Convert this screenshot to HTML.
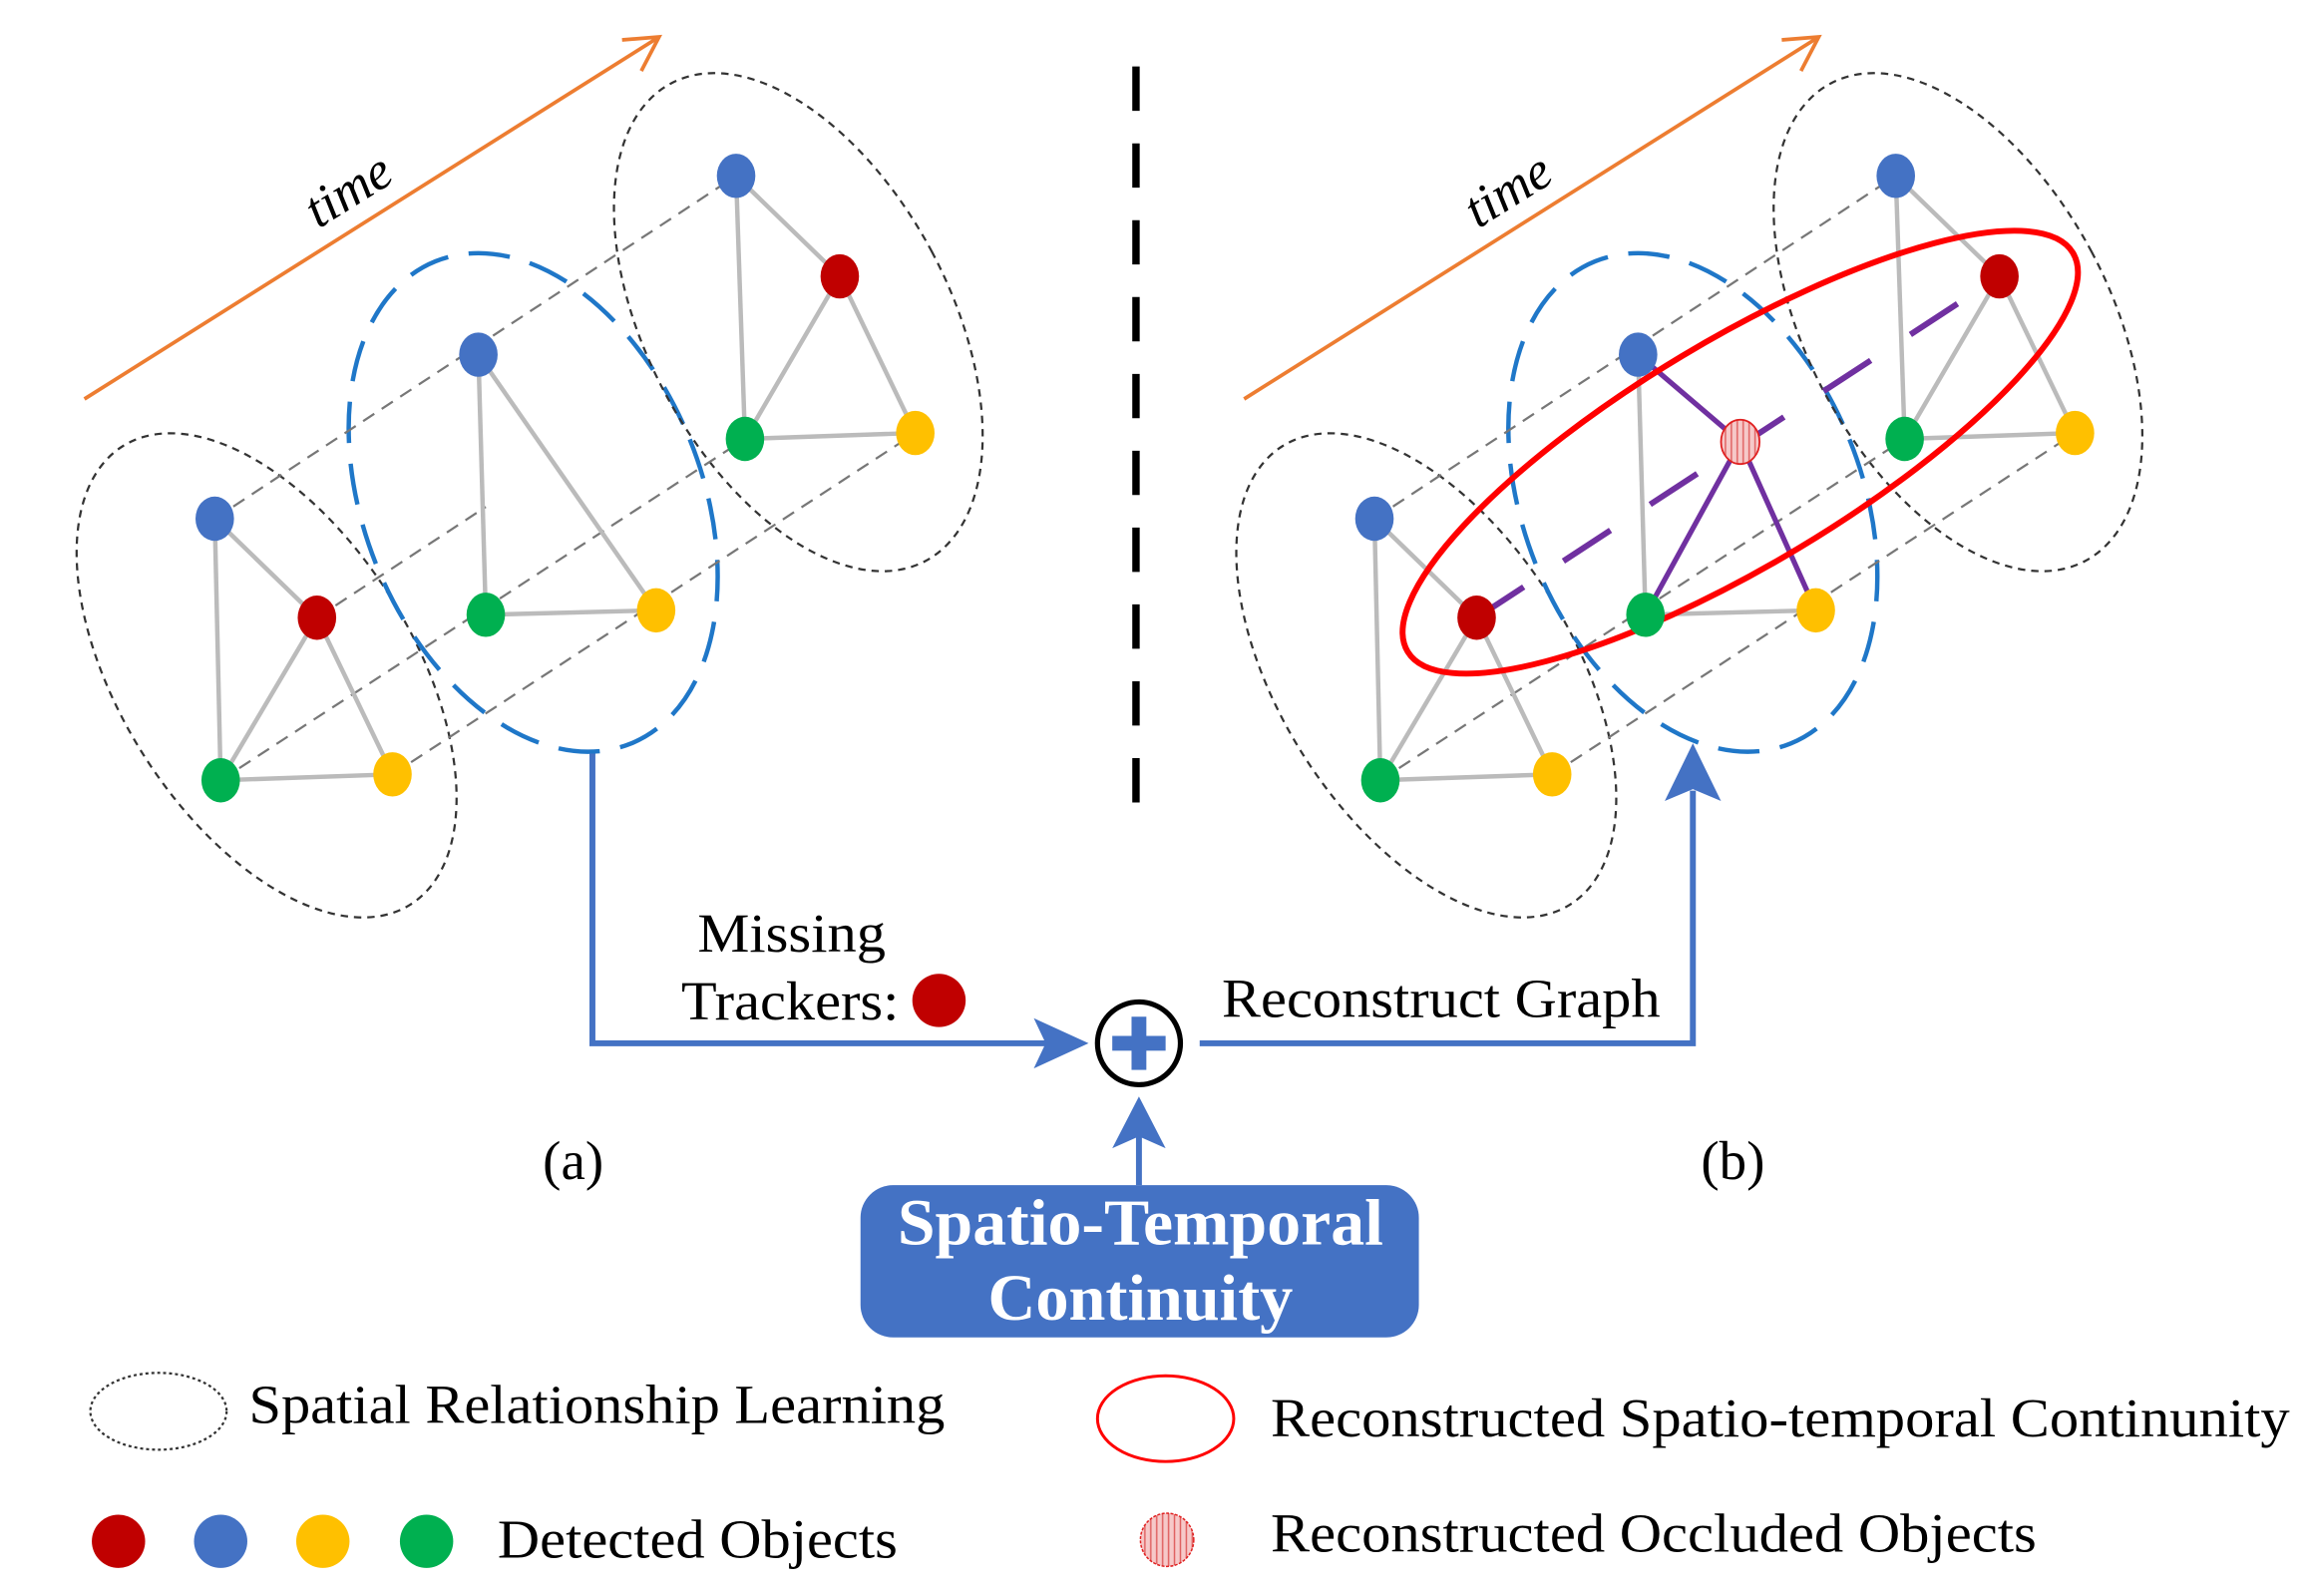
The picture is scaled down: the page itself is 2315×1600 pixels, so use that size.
<!DOCTYPE html>
<html><head><meta charset="utf-8"><style>html,body{margin:0;padding:0;background:#fff}svg{display:block}</style></head>
<body>
<svg width="2315" height="1600" viewBox="0 0 1559 1080" preserveAspectRatio="none" xmlns="http://www.w3.org/2000/svg" font-family="Liberation Serif, serif">
<defs>
<pattern id="hatch" width="4" height="4" patternUnits="userSpaceOnUse"><rect width="4" height="4" fill="#f6c9c9"/><line x1="1" y1="0" x2="1" y2="4" stroke="#e06060" stroke-width="1"/></pattern>
</defs>
<rect width="1559" height="1080" fill="#fff"/>

<!-- LEFT PANEL -->
<g>
<line x1="57" y1="270" x2="445" y2="25" stroke="#ed7d31" stroke-width="2.5"/>
<polyline points="420,27 445,25 433,48" fill="none" stroke="#ed7d31" stroke-width="2.5"/>
<text x="0" y="0" font-size="36" font-style="italic" transform="translate(215,155) rotate(-32)">time</text>
<ellipse cx="180" cy="457" rx="99" ry="183" transform="rotate(-32 180 457)" fill="none" stroke="#333" stroke-width="1.5" stroke-dasharray="5,4"/>
<ellipse cx="360" cy="340" rx="114" ry="176" transform="rotate(-22 360 340)" fill="none" stroke="#1f77c8" stroke-width="3" stroke-dasharray="28,14"/>
<ellipse cx="539" cy="218" rx="102" ry="183" transform="rotate(-28 539 218)" fill="none" stroke="#333" stroke-width="1.5" stroke-dasharray="5,4"/>
<g stroke="#777" stroke-width="1.5" stroke-dasharray="9,6">
<line x1="145" y1="351" x2="497" y2="119"/>
<line x1="149" y1="528" x2="503" y2="297"/>
<line x1="265" y1="524" x2="618" y2="293"/>
<line x1="214" y1="418" x2="328" y2="343"/>
</g>
<g stroke="#bbb" stroke-width="3">
<line x1="145" y1="351" x2="149" y2="528"/><line x1="145" y1="351" x2="214" y2="418"/><line x1="214" y1="418" x2="149" y2="528"/><line x1="214" y1="418" x2="265" y2="524"/><line x1="149" y1="528" x2="265" y2="524"/>
<line x1="323" y1="240" x2="328" y2="416"/><line x1="323" y1="240" x2="443" y2="413"/><line x1="328" y1="416" x2="443" y2="413"/>
<line x1="497" y1="119" x2="503" y2="297"/><line x1="497" y1="119" x2="567" y2="187"/><line x1="567" y1="187" x2="503" y2="297"/><line x1="567" y1="187" x2="618" y2="293"/><line x1="503" y1="297" x2="618" y2="293"/>
</g>
<g>
<ellipse cx="145" cy="351" rx="13" ry="15" fill="#4472c4"/><ellipse cx="214" cy="418" rx="13" ry="15" fill="#c00000"/><ellipse cx="149" cy="528" rx="13" ry="15" fill="#00b050"/><ellipse cx="265" cy="524" rx="13" ry="15" fill="#ffc000"/>
<ellipse cx="323" cy="240" rx="13" ry="15" fill="#4472c4"/><ellipse cx="328" cy="416" rx="13" ry="15" fill="#00b050"/><ellipse cx="443" cy="413" rx="13" ry="15" fill="#ffc000"/>
<ellipse cx="497" cy="119" rx="13" ry="15" fill="#4472c4"/><ellipse cx="567" cy="187" rx="13" ry="15" fill="#c00000"/><ellipse cx="503" cy="297" rx="13" ry="15" fill="#00b050"/><ellipse cx="618" cy="293" rx="13" ry="15" fill="#ffc000"/>
</g>
</g>

<line x1="767" y1="45" x2="767" y2="545" stroke="#000" stroke-width="5" stroke-dasharray="30,22"/>

<!-- RIGHT PANEL -->
<g>
<line x1="840" y1="270" x2="1228" y2="25" stroke="#ed7d31" stroke-width="2.5"/>
<polyline points="1203,27 1228,25 1216,48" fill="none" stroke="#ed7d31" stroke-width="2.5"/>
<text x="0" y="0" font-size="36" font-style="italic" transform="translate(998,155) rotate(-32)">time</text>
<ellipse cx="963" cy="457" rx="99" ry="183" transform="rotate(-32 963 457)" fill="none" stroke="#333" stroke-width="1.5" stroke-dasharray="5,4"/>
<ellipse cx="1143" cy="340" rx="114" ry="176" transform="rotate(-22 1143 340)" fill="none" stroke="#1f77c8" stroke-width="3" stroke-dasharray="28,14"/>
<ellipse cx="1322" cy="218" rx="102" ry="183" transform="rotate(-28 1322 218)" fill="none" stroke="#333" stroke-width="1.5" stroke-dasharray="5,4"/>
<g stroke="#777" stroke-width="1.5" stroke-dasharray="9,6">
<line x1="928" y1="351" x2="1280" y2="119"/>
<line x1="932" y1="528" x2="1286" y2="297"/>
<line x1="1048" y1="524" x2="1401" y2="293"/>
</g>
<g stroke="#bbb" stroke-width="3">
<line x1="928" y1="351" x2="932" y2="528"/><line x1="928" y1="351" x2="997" y2="418"/><line x1="997" y1="418" x2="932" y2="528"/><line x1="997" y1="418" x2="1048" y2="524"/><line x1="932" y1="528" x2="1048" y2="524"/>
<line x1="1106" y1="240" x2="1111" y2="416"/><line x1="1111" y1="416" x2="1226" y2="413"/>
<line x1="1280" y1="119" x2="1286" y2="297"/><line x1="1280" y1="119" x2="1350" y2="187"/><line x1="1350" y1="187" x2="1286" y2="297"/><line x1="1350" y1="187" x2="1401" y2="293"/><line x1="1286" y1="297" x2="1401" y2="293"/>
</g>
<line x1="997" y1="418" x2="1350" y2="187" stroke="#7030a0" stroke-width="4" stroke-dasharray="38,32"/>
<g stroke="#7030a0" stroke-width="3.5">
<line x1="1175" y1="299" x2="1106" y2="240"/><line x1="1175" y1="299" x2="1111" y2="416"/><line x1="1175" y1="299" x2="1226" y2="413"/>
</g>
<ellipse cx="1175" cy="306" rx="262" ry="76" transform="rotate(-31 1175 306)" fill="none" stroke="#f00" stroke-width="4"/>
<g>
<ellipse cx="928" cy="351" rx="13" ry="15" fill="#4472c4"/><ellipse cx="997" cy="418" rx="13" ry="15" fill="#c00000"/><ellipse cx="932" cy="528" rx="13" ry="15" fill="#00b050"/><ellipse cx="1048" cy="524" rx="13" ry="15" fill="#ffc000"/>
<ellipse cx="1106" cy="240" rx="13" ry="15" fill="#4472c4"/><ellipse cx="1111" cy="416" rx="13" ry="15" fill="#00b050"/><ellipse cx="1226" cy="413" rx="13" ry="15" fill="#ffc000"/>
<ellipse cx="1280" cy="119" rx="13" ry="15" fill="#4472c4"/><ellipse cx="1350" cy="187" rx="13" ry="15" fill="#c00000"/><ellipse cx="1286" cy="297" rx="13" ry="15" fill="#00b050"/><ellipse cx="1401" cy="293" rx="13" ry="15" fill="#ffc000"/>
<ellipse cx="1175" cy="299" rx="13" ry="15" fill="url(#hatch)" stroke="#e02020" stroke-width="1.2"/>
</g>
</g>

<g stroke="#4472c4" stroke-width="4" fill="none">
<polyline points="400,510 400,706 708,706"/>
<polyline points="810,706 1143,706 1143,535"/>
<line x1="769" y1="802" x2="769" y2="768"/>
</g>
<polygon points="735,706 698,689 706,706 698,723" fill="#4472c4"/>
<polygon points="1143,503 1124,542 1143,534 1162,542" fill="#4472c4"/>
<polygon points="769,742 751,777 769,769 787,777" fill="#4472c4"/>
<circle cx="769" cy="706" r="28" fill="#fff" stroke="#000" stroke-width="3.5"/>
<rect x="764" y="688" width="10" height="36" fill="#4472c4"/>
<rect x="751" y="701" width="36" height="10" fill="#4472c4"/>

<rect x="581" y="802" width="377" height="103" rx="22" fill="#4472c4"/>
<text x="606" y="842" font-size="44" font-weight="bold" fill="#fff" textLength="328" lengthAdjust="spacingAndGlyphs">Spatio-Temporal</text>
<text x="667" y="893" font-size="44" font-weight="bold" fill="#fff" textLength="206" lengthAdjust="spacingAndGlyphs">Continuity</text>

<g font-size="37" fill="#000">
<text x="471" y="644" textLength="127" lengthAdjust="spacingAndGlyphs">Missing</text>
<text x="460" y="690" textLength="147" lengthAdjust="spacingAndGlyphs">Trackers:</text>
<text x="825" y="688" textLength="296" lengthAdjust="spacingAndGlyphs">Reconstruct Graph</text>
<text x="387" y="798" text-anchor="middle">(a)</text>
<text x="1170" y="798" text-anchor="middle">(b)</text>
<text x="168" y="963" textLength="470" lengthAdjust="spacingAndGlyphs">Spatial Relationship Learning</text>
<text x="858" y="972" textLength="688" lengthAdjust="spacingAndGlyphs">Reconstructed Spatio-temporal Continunity</text>
<text x="336" y="1054" textLength="270" lengthAdjust="spacingAndGlyphs">Detected Objects</text>
<text x="858" y="1050" textLength="517" lengthAdjust="spacingAndGlyphs">Reconstructed Occluded Objects</text>
</g>
<circle cx="634" cy="677" r="18" fill="#c00000"/>

<ellipse cx="107" cy="955" rx="46" ry="26" fill="none" stroke="#333" stroke-width="1.5" stroke-dasharray="2,2"/>
<ellipse cx="787" cy="960" rx="46" ry="29" fill="none" stroke="#f00" stroke-width="2"/>
<circle cx="80" cy="1043" r="18" fill="#c00000"/>
<circle cx="149" cy="1043" r="18" fill="#4472c4"/>
<circle cx="218" cy="1043" r="18" fill="#ffc000"/>
<circle cx="288" cy="1043" r="18" fill="#00b050"/>
<circle cx="788" cy="1042" r="18" fill="url(#hatch)" stroke="#e02020" stroke-width="1" stroke-dasharray="2,1"/>
</svg>
</body></html>
